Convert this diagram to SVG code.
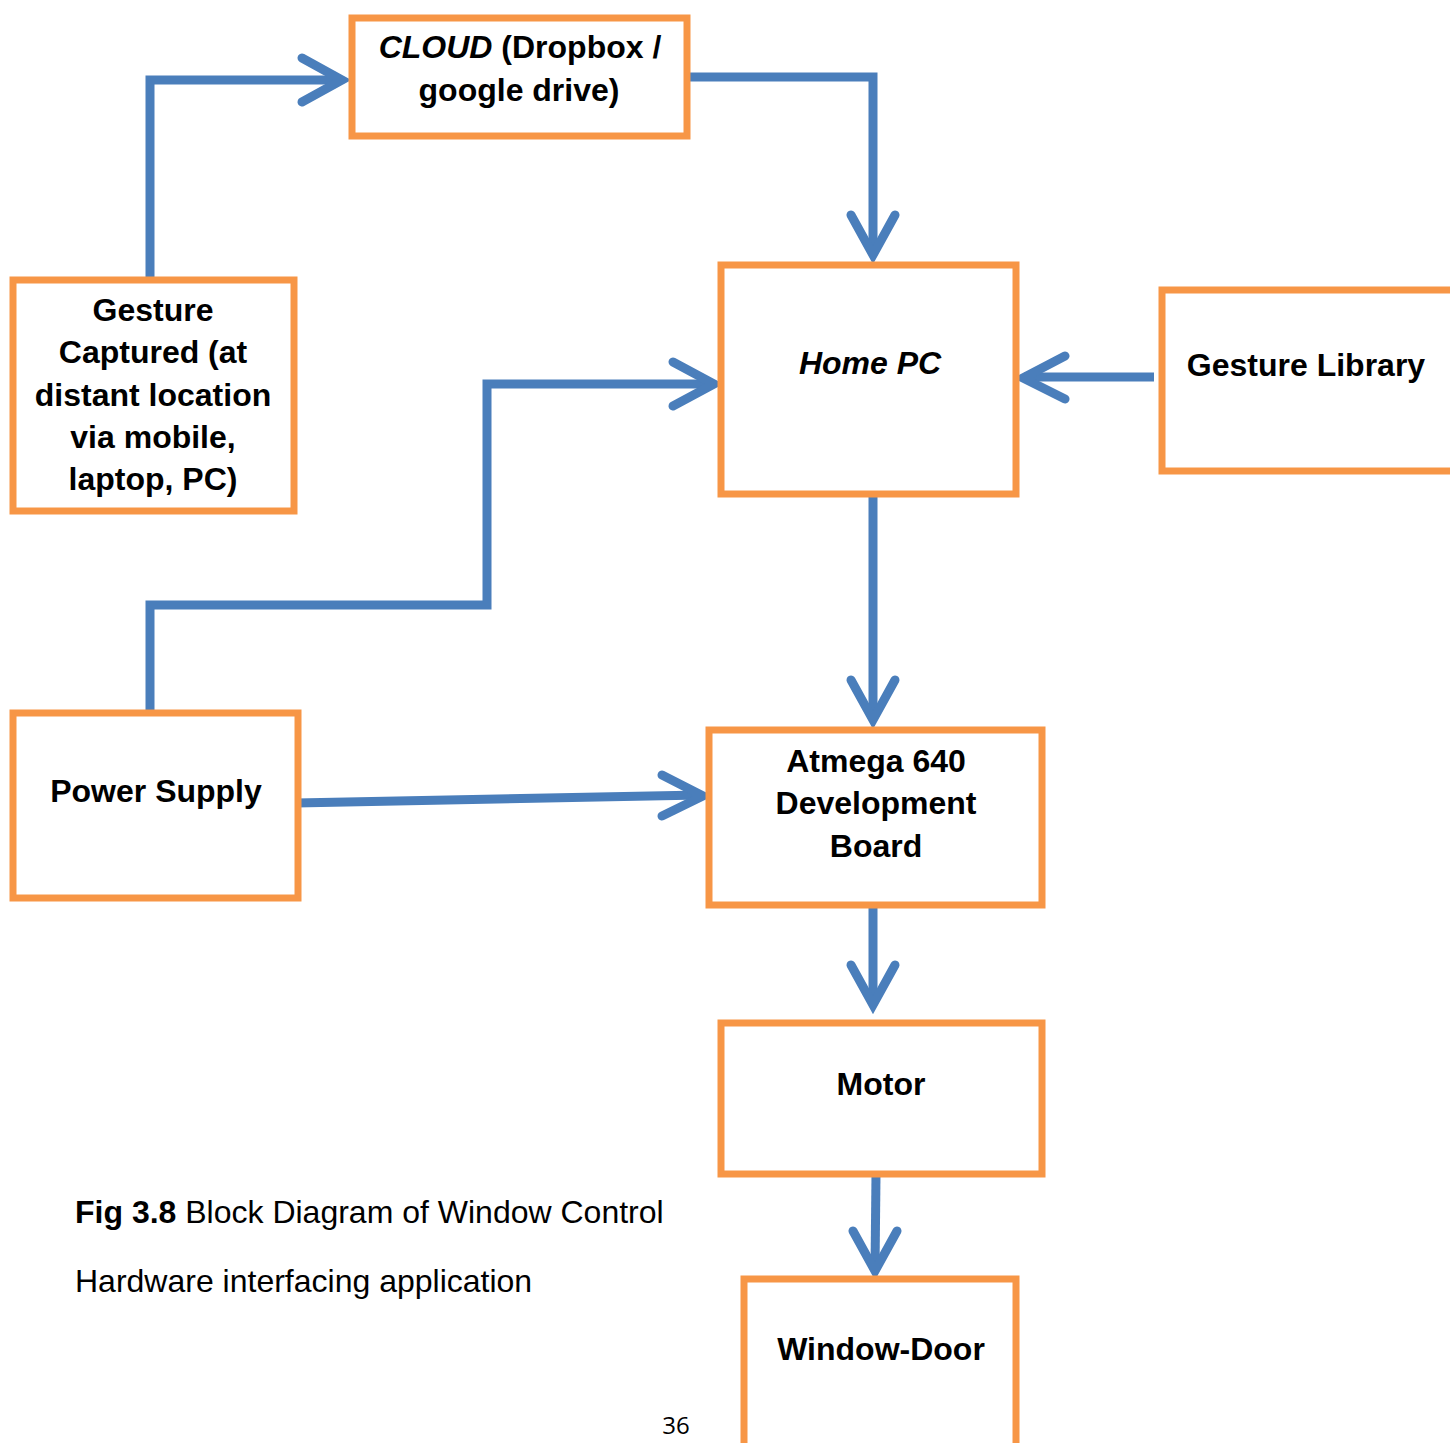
<svg xmlns="http://www.w3.org/2000/svg" width="1450" height="1443" viewBox="0 0 1450 1443">
<style>
.box{fill:#fff;stroke:#F79646;stroke-width:7}
.t{font-family:"Liberation Sans",Arial,sans-serif;font-size:32px;font-weight:bold;fill:#000;text-anchor:middle}
.c{font-family:"Liberation Sans",Arial,sans-serif;font-size:32px;fill:#000}
.ln{fill:none;stroke:#4A7EBB;stroke-width:9}
.hd{fill:none;stroke:#4A7EBB;stroke-width:9;stroke-linecap:round;stroke-linejoin:miter}
</style>
<rect width="1450" height="1443" fill="#fff"/>
<g id="connectors">
<polyline class="ln" points="150,277 150,80 340,80"/>
<polyline class="hd" points="302,58 342,80 302,102"/>
<polyline class="ln" points="689,77 873,77 873,254"/>
<polyline class="hd" points="851,215 873,255 895,215"/>
<line class="ln" x1="1154" y1="377" x2="1024" y2="377"/>
<polyline class="hd" points="1065,356 1023,378 1065,399"/>
<polyline class="ln" points="150,711 150,605 487,605 487,384 712,384"/>
<polyline class="hd" points="673,362 714,384 673,406"/>
<line class="ln" x1="296" y1="803" x2="701" y2="795"/>
<polyline class="hd" points="662,775 703,796 662,816"/>
<line class="ln" x1="873" y1="495" x2="873" y2="718"/>
<polyline class="hd" points="851,680 873,720 895,680"/>
<line class="ln" x1="873" y1="906" x2="873" y2="1004"/>
<polyline class="hd" points="851,965 873,1005 895,965"/>
<line class="ln" x1="876" y1="1175" x2="875" y2="1269"/>
<polyline class="hd" points="853,1231 875,1271 897,1231"/>
</g>
<g id="cloud">
<rect class="box" x="352" y="18" width="335" height="118"/>
<text class="t" x="520" y="58"><tspan font-style="italic">CLOUD</tspan> (Dropbox /</text>
<text class="t" x="519" y="101">google drive)</text>
</g>
<g id="gesture-captured">
<rect class="box" x="13" y="280" width="281" height="231"/>
<text class="t" x="153" y="321">Gesture</text>
<text class="t" x="153" y="363">Captured (at</text>
<text class="t" x="153" y="406">distant location</text>
<text class="t" x="153" y="448">via mobile,</text>
<text class="t" x="153" y="490">laptop, PC)</text>
</g>
<g id="home-pc">
<rect class="box" x="721" y="265" width="295" height="229"/>
<text class="t" x="870" y="374" font-style="italic">Home PC</text>
</g>
<g id="gesture-library">
<rect class="box" x="1162" y="290" width="296" height="181"/>
<text class="t" x="1306" y="376">Gesture Library</text>
</g>
<g id="power-supply">
<rect class="box" x="13" y="713" width="285" height="185"/>
<text class="t" x="156" y="802">Power Supply</text>
</g>
<g id="atmega">
<rect class="box" x="709" y="730" width="333" height="175"/>
<text class="t" x="876" y="772">Atmega 640</text>
<text class="t" x="876" y="814">Development</text>
<text class="t" x="876" y="857">Board</text>
</g>
<g id="motor">
<rect class="box" x="721" y="1023" width="321" height="151"/>
<text class="t" x="881" y="1095">Motor</text>
</g>
<g id="window-door">
<rect class="box" x="744" y="1279" width="272" height="180"/>
<text class="t" x="881" y="1360">Window-Door</text>
</g>
<g id="caption">
<text class="c" x="75" y="1223"><tspan font-weight="bold">Fig 3.8</tspan> Block Diagram of Window Control</text>
<text class="c" x="75" y="1292">Hardware interfacing application</text>
<text x="676" y="1434" font-family="'Open Sans','Noto Sans',sans-serif" font-size="24" text-anchor="middle" fill="#000">36</text>
</g>
</svg>
